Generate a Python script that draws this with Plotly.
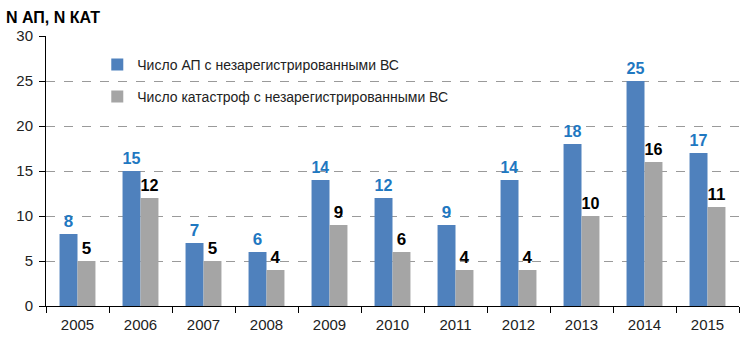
import plotly.graph_objects as go

years = ["2005", "2006", "2007", "2008", "2009", "2010", "2011", "2012", "2013", "2014", "2015"]
ap_values = [8, 15, 7, 6, 14, 12, 9, 14, 18, 25, 17]
kat_values = [5, 12, 5, 4, 9, 6, 4, 4, 10, 16, 11]
series_names = ["Число АП с незарегистрированными ВС", "Число катастроф с незарегистрированными ВС"]
y_ticks = [0, 5, 10, 15, 20, 25, 30]

FONT = "Liberation Sans, Arial, sans-serif"

fig = go.Figure()
fig.add_trace(go.Bar(
    x=years, y=ap_values, name=series_names[0],
    marker=dict(color="#4F81BD", line=dict(width=0)),
    text=ap_values, textposition="outside", cliponaxis=False,
    textfont=dict(family=FONT, size=17, color="#1F78C1"),
    texttemplate="<b>%{text}</b>",
    legend="legend", showlegend=True,
))
fig.add_trace(go.Bar(
    x=years, y=kat_values, name=series_names[1],
    marker=dict(color="#A5A5A5", line=dict(width=0)),
    text=kat_values, textposition="outside", cliponaxis=False,
    textfont=dict(family=FONT, size=17, color="#000000"),
    texttemplate="<b>%{text}</b>",
    legend="legend2", showlegend=True,
))

legend_common = dict(
    font=dict(family=FONT, size=14, color="#222222"),
    bgcolor="rgba(0,0,0,0)", borderwidth=0,
    xanchor="left", yanchor="middle", itemwidth=30,
)

fig.update_layout(
    width=756, height=350,
    margin=dict(l=46, r=17, t=36, b=44),
    paper_bgcolor="white", plot_bgcolor="white",
    barmode="group", bargap=0.43, bargroupgap=0,
    showlegend=True,
    font=dict(family=FONT, size=14, color="#222222"),
    legend=dict(x=0.074, y=0.893, **legend_common),
    legend2=dict(x=0.074, y=0.774, **legend_common),
    xaxis=dict(
        type="category", showline=True, linecolor="#000000", linewidth=1,
        ticks="outside", tickson="boundaries", ticklen=6, tickcolor="#000000",
        ticklabelstandoff=5,
        showgrid=False, tickfont=dict(family=FONT, size=15, color="#222222"),
    ),
    yaxis=dict(
        range=[0, 30], tickvals=y_ticks, showline=True, linecolor="#000000", linewidth=1,
        ticks="outside", ticklen=6, tickcolor="#000000",
        ticklabelstandoff=3,
        showgrid=True, gridcolor="#9A9A9A", griddash="dash", gridwidth=1,
        zeroline=False, tickfont=dict(family=FONT, size=15, color="#222222"),
    ),
    annotations=[dict(
        text="<b>N АП, N КАТ</b>", xref="paper", yref="paper",
        x=-0.061, y=1.067, xanchor="left", yanchor="middle", showarrow=False,
        font=dict(family=FONT, size=16, color="#000000"),
    )],
)

fig.write_html("out.html")
